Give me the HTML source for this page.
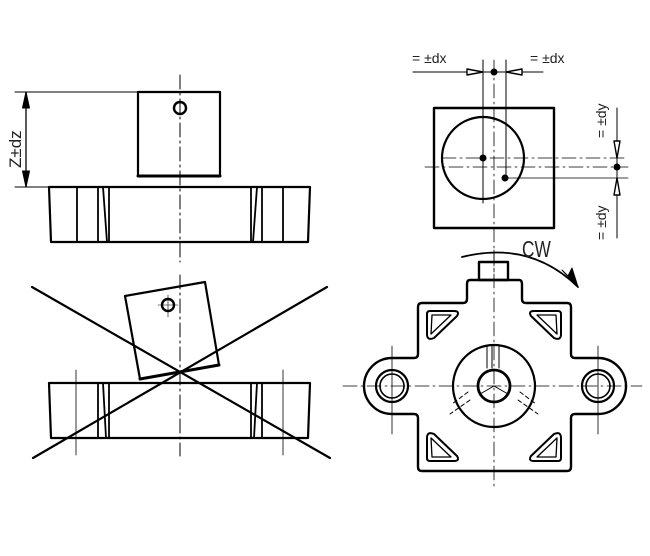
<!DOCTYPE html>
<html><head><meta charset="utf-8"><style>
html,body{margin:0;padding:0;background:#fff;}
svg{display:block;}
text{font-family:"Liberation Sans",sans-serif;fill:#222;}
</style></head><body>
<svg width="650" height="556" viewBox="0 0 650 556" xmlns="http://www.w3.org/2000/svg">
<g fill="none" stroke="#000" stroke-linecap="round" stroke-linejoin="round">
<line x1="180" y1="75" x2="180" y2="262" stroke-width="1" stroke-dasharray="14,4,2,4"/>
<rect x="138" y="92" width="82" height="84" stroke-width="2.2"/>
<line x1="138" y1="176" x2="220" y2="176" stroke-width="3"/>
<circle cx="180" cy="108" r="6" stroke-width="2.4"/>
<line x1="15" y1="92" x2="138" y2="92" stroke-width="1"/>
<line x1="15" y1="187" x2="49" y2="187" stroke-width="1"/>
<line x1="26" y1="92" x2="26" y2="187" stroke-width="1.3"/>
<path d="M26 92 L22.5 108 L29.5 108Z M26 187 L22.5 171 L29.5 171Z" fill="#000"/>
<path d="M49 187 L310 187 L308 242 L51 242 Z" stroke-width="2.2"/>
<g stroke-width="1.8">
<line x1="77" y1="187" x2="77" y2="242"/><line x1="98" y1="187" x2="98" y2="242"/>
<line x1="103" y1="187" x2="107" y2="242"/><line x1="109" y1="187" x2="109" y2="242"/>
<line x1="283" y1="187" x2="283" y2="242"/><line x1="262" y1="187" x2="262" y2="242"/>
<line x1="257" y1="187" x2="253" y2="242"/><line x1="251" y1="187" x2="251" y2="242"/>
</g>
<line x1="180" y1="275" x2="180" y2="456" stroke-width="1" stroke-dasharray="14,4,2,4"/>
<path d="M125 296 L205 282 L219 365 L140 379 Z" stroke-width="2.2"/>
<line x1="140" y1="379" x2="219" y2="365" stroke-width="3"/>
<circle cx="168" cy="305" r="6" stroke-width="2.4"/>
<line x1="158" y1="305" x2="178" y2="305" stroke-width="0.6"/>
<line x1="168" y1="295" x2="168" y2="317" stroke-width="0.6"/>
<path d="M49 383 L310 383 L308 438 L51 438 Z" stroke-width="2.2"/>
<g stroke-width="1.8">
<line x1="98" y1="383" x2="98" y2="438"/>
<line x1="103" y1="383" x2="106" y2="438"/><line x1="109" y1="383" x2="109" y2="438"/>
<line x1="262" y1="383" x2="262" y2="438"/>
<line x1="257" y1="383" x2="254" y2="438"/><line x1="251" y1="383" x2="251" y2="438"/>
</g>
<line x1="76" y1="370" x2="76" y2="455" stroke-width="0.8"/>
<line x1="283" y1="370" x2="283" y2="455" stroke-width="0.8"/>
<line x1="32" y1="287" x2="330" y2="458" stroke-width="2.2"/>
<line x1="327" y1="287" x2="33" y2="458" stroke-width="2.2"/>
<rect x="434" y="108" width="120" height="120" stroke-width="2.4"/>
<circle cx="483" cy="158" r="41" stroke-width="2.2"/>
<line x1="483" y1="60" x2="483" y2="203" stroke-width="1"/>
<line x1="494" y1="60" x2="494" y2="272" stroke-width="0.8" stroke-dasharray="14,4,2,4"/>
<line x1="506" y1="60" x2="506" y2="178" stroke-width="1"/>
<line x1="442" y1="158" x2="628" y2="158" stroke-width="0.8" stroke-dasharray="14,4,2,4"/>
<line x1="425" y1="167" x2="628" y2="167" stroke-width="0.8" stroke-dasharray="14,4,2,4"/>
<line x1="506" y1="178" x2="628" y2="178" stroke-width="0.8"/>
<line x1="413" y1="72" x2="543" y2="72" stroke-width="1"/>
<path d="M483 72 L467 69 L467 75Z M506 72 L522 69 L522 75Z" fill="#fff" stroke-width="1.4"/>
<line x1="617" y1="108" x2="617" y2="238" stroke-width="1"/>
<path d="M617 158 L614 141 L620 141Z M617 178 L614 195 L620 195Z" fill="#fff" stroke-width="1.4"/>
<g fill="#000" stroke="none">
<circle cx="494" cy="72" r="3.5"/><circle cx="483" cy="158" r="3.5"/>
<circle cx="505" cy="178" r="3.5"/><circle cx="617" cy="167" r="3.5"/>
</g>
<line x1="494" y1="250" x2="494" y2="490" stroke-width="0.8" stroke-dasharray="14,4,2,4"/>
<line x1="343" y1="386" x2="642" y2="386" stroke-width="0.8" stroke-dasharray="14,4,2,4"/>
<line x1="392" y1="346" x2="392" y2="434" stroke-width="0.8"/>
<line x1="598" y1="346" x2="598" y2="434" stroke-width="0.8"/>
<rect x="479" y="262" width="29" height="18" stroke-width="2.4"/>
<path d="M470 280 L519 280 Q522 280 522 284 L522 299 Q522 303 526 303 L567 303 Q571 303 571 307 L571 354 Q571 358 575 358 L598 358 A28 28 0 0 1 598 414 L575 414 Q571 414 571 418 L571 467 Q571 471 567 471 L422 471 Q418 471 418 467 L418 418 Q418 414 414 414 L392 414 A28 28 0 0 1 392 358 L414 358 Q418 358 418 354 L418 307 Q418 303 422 303 L463 303 Q467 303 467 299 L467 284 Q467 280 470 280 Z" stroke-width="2.4"/>
<circle cx="392" cy="386" r="16" stroke-width="2.2"/><circle cx="392" cy="386" r="12" stroke-width="1.6"/>
<circle cx="598" cy="386" r="16" stroke-width="2.2"/><circle cx="598" cy="386" r="12" stroke-width="1.6"/>
<circle cx="494" cy="386" r="41" stroke-width="2.2"/>
<circle cx="494" cy="386" r="16" stroke-width="2.8"/>
<g stroke-width="1">
<line x1="487" y1="346" x2="487" y2="368"/><line x1="492" y1="346" x2="492" y2="368"/><line x1="499" y1="346" x2="499" y2="368"/>
<line x1="494" y1="386" x2="480" y2="394"/><line x1="494" y1="386" x2="508" y2="394"/>
<line x1="468" y1="392" x2="452" y2="404" stroke-dasharray="4,3"/><line x1="470" y1="400" x2="450" y2="414" stroke-dasharray="4,3"/>
<line x1="520" y1="392" x2="536" y2="404" stroke-dasharray="4,3"/><line x1="518" y1="400" x2="538" y2="414" stroke-dasharray="4,3"/>
</g>
<g id="tri" stroke-width="2">
<path d="M430 311 L454 311 Q460 311 457 316 L434 338 Q427 341 427 334 L427 314 Q427 311 430 311Z"/>
<path d="M432 315 L451 315 L431 334 Z" stroke-width="1.3"/>
</g>
<use href="#tri" transform="translate(988,0) scale(-1,1)"/>
<use href="#tri" transform="translate(0,772) scale(1,-1)"/>
<use href="#tri" transform="translate(988,772) scale(-1,-1)"/>
<path d="M462 257 Q530 240 578 287" stroke-width="1.8"/>
<path d="M578 287 L562 270 L568 276 L572 268Z" fill="#000" stroke-width="1"/>
</g>
<text transform="translate(21,168) rotate(-90)" font-size="17">Z±dz</text>
<text x="412" y="63" font-size="14">=  ±dx</text>
<text x="530" y="63" font-size="14">=  ±dx</text>
<text transform="translate(606,138) rotate(-90)" font-size="14">=  ±dy</text>
<text transform="translate(606,240) rotate(-90)" font-size="14">=  ±dy</text>
<text transform="translate(522,257) scale(0.75,1)" font-size="23">CW</text>
</svg>
</body></html>
